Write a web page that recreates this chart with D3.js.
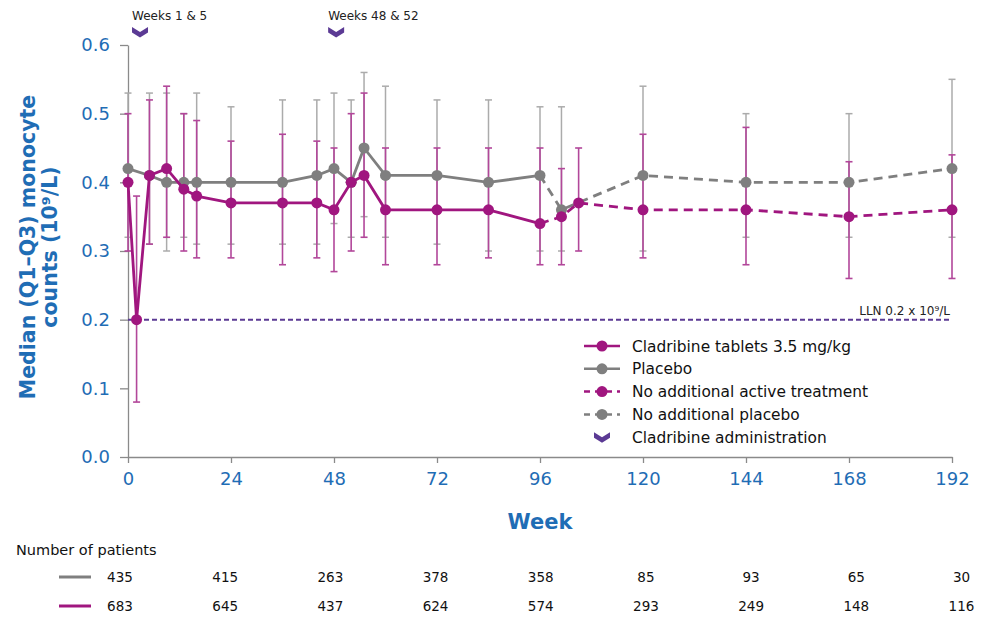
<!DOCTYPE html>
<html>
<head>
<meta charset="utf-8">
<script src="https://cdn.jsdelivr.net/npm/d3@7"></script>
<style>
  html, body { margin: 0; padding: 0; background: #fff; }
  svg { display: block; font-family: "DejaVu Sans", Verdana, sans-serif; }
</style>
</head>
<body>
<svg id="chart" width="986" height="618"></svg>
<script>
// ---------- data ----------
const claWeeks = [0, 2, 5, 9, 13, 16, 24, 36, 44, 48, 52, 55, 60, 72, 84, 96];
const claMedian = [0.40, 0.20, 0.41, 0.42, 0.39, 0.38, 0.37, 0.37, 0.37, 0.36, 0.40, 0.41, 0.36, 0.36, 0.36, 0.34];
const claQ1 = [0.30, 0.08, 0.31, 0.32, 0.30, 0.29, 0.29, 0.28, 0.29, 0.27, 0.30, 0.32, 0.28, 0.28, 0.29, 0.28];
const claQ3 = [0.50, 0.38, 0.52, 0.54, 0.50, 0.49, 0.46, 0.47, 0.46, 0.45, 0.50, 0.53, 0.45, 0.45, 0.45, 0.45];

const plaWeeks = [0, 5, 9, 13, 16, 24, 36, 44, 48, 52, 55, 60, 72, 84, 96];
const plaMedian = [0.42, 0.41, 0.40, 0.40, 0.40, 0.40, 0.40, 0.41, 0.42, 0.40, 0.45, 0.41, 0.41, 0.40, 0.41];
const plaQ1 = [0.32, 0.31, 0.30, 0.32, 0.31, 0.31, 0.31, 0.31, 0.34, 0.32, 0.35, 0.32, 0.31, 0.30, 0.30];
const plaQ3 = [0.53, 0.53, 0.53, 0.50, 0.53, 0.51, 0.52, 0.52, 0.53, 0.52, 0.56, 0.54, 0.52, 0.52, 0.51];

const noActWeeks = [101, 105, 120, 144, 168, 192];
const noActMedian = [0.35, 0.37, 0.36, 0.36, 0.35, 0.36];
const noActQ1 = [0.28, 0.30, 0.29, 0.28, 0.26, 0.26];
const noActQ3 = [0.42, 0.45, 0.47, 0.48, 0.43, 0.44];

const noPlaWeeks = [101, 120, 144, 168, 192];
const noPlaMedian = [0.36, 0.41, 0.40, 0.40, 0.42];
const noPlaQ1 = [0.30, 0.30, 0.32, 0.32, 0.32];
const noPlaQ3 = [0.51, 0.54, 0.50, 0.50, 0.55];

const xTicks = [0, 24, 48, 72, 96, 120, 144, 168, 192];
const yTicks = [0, 0.1, 0.2, 0.3, 0.4, 0.5, 0.6];
const lln = 0.2;
const adminWeeks = [2.8, 48.5];
const adminLabels = ["Weeks 1 & 5", "Weeks 48 & 52"];

const patientsPlacebo = [435, 415, 263, 378, 358, 85, 93, 65, 30];
const patientsCladribine = [683, 645, 437, 624, 574, 293, 249, 148, 116];

const legendLabels = ["Cladribine tablets 3.5 mg/kg", "Placebo", "No additional active treatment", "No additional placebo", "Cladribine administration"];

// ---------- styles ----------
const MAG = "#a0167f", MAG_BAR = "#b2479a";
const GRY = "#7f7f7f", GRY_BAR = "#ababab";
const BLUE = "#1f6db5";
const PURP = "#5b3a94";
const AXIS = "#8a8a8a";

const svg = d3.select("#chart");
const x = d3.scaleLinear().domain([0, 192]).range([128, 952]);
const y = d3.scaleLinear().domain([0, 0.6]).range([457, 45]);

const zip = (w, m, q1, q3) => w.map((d, i) => ({ w: d, m: m[i], q1: q1[i], q3: q3[i] }));
const cla = zip(claWeeks, claMedian, claQ1, claQ3);
const pla = zip(plaWeeks, plaMedian, plaQ1, plaQ3);
const noAct = zip(noActWeeks, noActMedian, noActQ1, noActQ3);
const noPla = zip(noPlaWeeks, noPlaMedian, noPlaQ1, noPlaQ3);

// ---------- axes ----------
const yAxis = svg.append("g").attr("transform", `translate(${x(0)},0)`)
  .call(d3.axisLeft(y).tickValues(yTicks).tickFormat(d3.format(".1f")).tickSize(8).tickPadding(10).tickSizeOuter(0));
yAxis.select(".domain").attr("stroke", AXIS).attr("stroke-width", 1.3);
yAxis.selectAll(".tick line").attr("stroke", AXIS).attr("stroke-width", 1.3);
yAxis.selectAll(".tick text").attr("fill", BLUE).attr("font-size", 18).attr("font-family", "DejaVu Sans");

const xAxis = svg.append("g").attr("transform", `translate(0,${y(0)})`)
  .call(d3.axisBottom(x).tickValues(xTicks).tickFormat(d3.format("d")).tickSize(6).tickPadding(9).tickSizeOuter(0));
xAxis.select(".domain").attr("stroke", AXIS).attr("stroke-width", 1.3);
xAxis.selectAll(".tick line").attr("stroke", AXIS).attr("stroke-width", 1.3);
xAxis.selectAll(".tick text").attr("fill", BLUE).attr("font-size", 18).attr("font-family", "DejaVu Sans");

// axis titles
svg.append("text").attr("x", 540).attr("y", 529).attr("text-anchor", "middle")
  .attr("fill", BLUE).attr("font-weight", "bold").attr("font-size", 21).text("Week");
const yt = svg.append("text").attr("transform", "translate(35,247) rotate(-90)")
  .attr("text-anchor", "middle").attr("fill", BLUE).attr("font-weight", "bold").attr("font-size", 20.5);
yt.append("tspan").attr("x", 0).attr("y", 0).text("Median (Q1–Q3) monocyte");
yt.append("tspan").attr("x", 0).attr("y", 22).text("counts (10⁹/L)");

// ---------- LLN ----------
svg.append("line").attr("x1", x(0)).attr("x2", x(192)).attr("y1", y(lln)).attr("y2", y(lln))
  .attr("stroke", PURP).attr("stroke-width", 2).attr("stroke-dasharray", "5,3");
svg.append("text").attr("x", x(192) - 2).attr("y", y(lln) - 5).attr("text-anchor", "end")
  .attr("font-size", 12).attr("fill", "#222").text("LLN 0.2 x 10⁹/L");

// ---------- error bars ----------
function errBars(data, color, width) {
  const g = svg.append("g").attr("stroke", color).attr("stroke-width", width).attr("fill", "none");
  data.forEach(d => {
    g.append("line").attr("x1", x(d.w)).attr("x2", x(d.w)).attr("y1", y(d.q1)).attr("y2", y(d.q3));
    g.append("line").attr("x1", x(d.w) - 3.5).attr("x2", x(d.w) + 3.5).attr("y1", y(d.q1)).attr("y2", y(d.q1));
    g.append("line").attr("x1", x(d.w) - 3.5).attr("x2", x(d.w) + 3.5).attr("y1", y(d.q3)).attr("y2", y(d.q3));
  });
}
errBars(pla, GRY_BAR, 1.5);
errBars(noPla, GRY_BAR, 1.5);
errBars(cla, MAG_BAR, 1.6);
errBars(noAct, MAG_BAR, 1.6);

// ---------- lines ----------
const line = d3.line().x(d => x(d.w)).y(d => y(d.m));
function series(data, color, dashed) {
  svg.append("path").datum(data).attr("d", line).attr("fill", "none")
    .attr("stroke", color).attr("stroke-width", 2.8)
    .attr("stroke-dasharray", dashed ? "9,6" : null);
}
function points(data, color) {
  svg.append("g").selectAll("circle").data(data).join("circle")
    .attr("cx", d => x(d.w)).attr("cy", d => y(d.m)).attr("r", 5.5).attr("fill", color);
}
series([pla[pla.length - 1], ...noPla], GRY, true);
series(pla, GRY, false);
points(pla, GRY); points(noPla, GRY);
series([cla[cla.length - 1], ...noAct], MAG, true);
series(cla, MAG, false);
points(cla, MAG); points(noAct, MAG);

// ---------- administration markers ----------
const chevron = "M-8,-5 L0,0 L8,-5 L8,0.5 L0,5.5 L-8,0.5 Z";
adminWeeks.forEach((w, i) => {
  svg.append("path").attr("d", chevron).attr("fill", PURP).attr("transform", `translate(${x(w)},32)`);
  svg.append("text").attr("x", x(w) - 8).attr("y", 20).attr("font-size", 12).attr("fill", "#222").text(adminLabels[i]);
});

// ---------- legend ----------
const lg = svg.append("g").attr("transform", "translate(584,346)");
const legendStyles = [
  { c: MAG, dash: false, type: "pt" }, { c: GRY, dash: false, type: "pt" },
  { c: MAG, dash: true, type: "pt" }, { c: GRY, dash: true, type: "pt" },
  { c: PURP, type: "chev" }
];
legendLabels.forEach((lab, i) => {
  const row = lg.append("g").attr("transform", `translate(0,${i * 22.8})`);
  const s = legendStyles[i];
  if (s.type === "pt") {
    row.append("line").attr("x1", 0).attr("x2", 36).attr("y1", 0).attr("y2", 0)
      .attr("stroke", s.c).attr("stroke-width", 2.5).attr("stroke-dasharray", s.dash ? "6,5" : null);
    row.append("circle").attr("cx", 18).attr("cy", 0).attr("r", 5.5).attr("fill", s.c);
  } else {
    row.append("path").attr("d", chevron).attr("fill", s.c).attr("transform", "translate(18,0)");
  }
  row.append("text").attr("x", 48).attr("y", 5.5).attr("font-size", 15.4).attr("fill", "#111").text(lab);
});

// ---------- number of patients ----------
svg.append("text").attr("x", 16).attr("y", 555).attr("font-size", 14.5).attr("fill", "#111").text("Number of patients");
const px = d3.scalePoint().domain(d3.range(patientsPlacebo.length)).range([120, 961.5]);
[[patientsPlacebo, GRY, 577], [patientsCladribine, MAG, 606]].forEach(([arr, c, yy]) => {
  svg.append("line").attr("x1", 59).attr("x2", 91).attr("y1", yy).attr("y2", yy).attr("stroke", c).attr("stroke-width", 3);
  svg.append("g").selectAll("text").data(arr).join("text")
    .attr("x", (d, i) => px(i)).attr("y", yy + 5).attr("text-anchor", "middle")
    .attr("font-size", 13.5).attr("fill", "#111").text(d => d);
});
</script>
</body>
</html>
